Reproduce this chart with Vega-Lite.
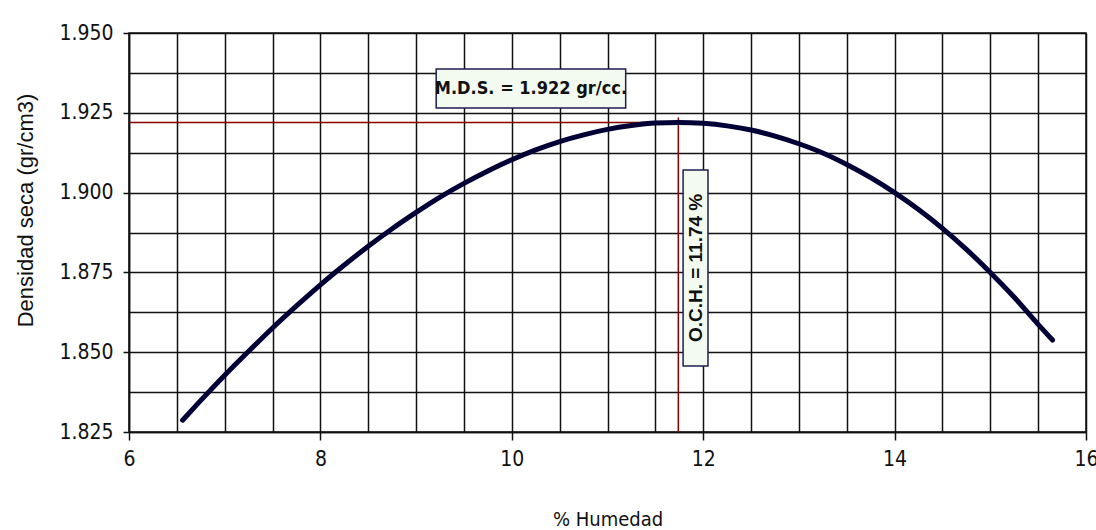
{
  "$schema": "https://vega.github.io/schema/vega-lite/v6.json",
  "width": 957,
  "height": 399,
  "autosize": {"type": "none"},
  "padding": {"left": 129, "top": 33, "right": 10, "bottom": 98},
  "background": "white",
  "config": {
    "view": {"stroke": "#111", "strokeWidth": 1.5},
    "font": "Liberation Sans"
  },
  "datasets": {
    "curve": [
      {"x": 6.56, "y": 1.8287},
      {"x": 6.75, "y": 1.8349},
      {"x": 7.0, "y": 1.8428},
      {"x": 7.25, "y": 1.8503},
      {"x": 7.5, "y": 1.8576},
      {"x": 7.75, "y": 1.8645},
      {"x": 8.0, "y": 1.8711},
      {"x": 8.25, "y": 1.8773},
      {"x": 8.5, "y": 1.8832},
      {"x": 8.75, "y": 1.8887},
      {"x": 9.0, "y": 1.8938},
      {"x": 9.25, "y": 1.8986},
      {"x": 9.5, "y": 1.9029},
      {"x": 9.75, "y": 1.9068},
      {"x": 10.0, "y": 1.9103},
      {"x": 10.25, "y": 1.9134},
      {"x": 10.5, "y": 1.916},
      {"x": 10.75, "y": 1.9181},
      {"x": 11.0, "y": 1.9198},
      {"x": 11.25, "y": 1.921},
      {"x": 11.5, "y": 1.9218},
      {"x": 11.74, "y": 1.922},
      {"x": 12.0, "y": 1.9217},
      {"x": 12.25, "y": 1.9209},
      {"x": 12.5, "y": 1.9196},
      {"x": 12.75, "y": 1.9177},
      {"x": 13.0, "y": 1.9153},
      {"x": 13.25, "y": 1.9124},
      {"x": 13.5, "y": 1.9088},
      {"x": 13.75, "y": 1.9047},
      {"x": 14.0, "y": 1.9},
      {"x": 14.25, "y": 1.8947},
      {"x": 14.5, "y": 1.8888},
      {"x": 14.75, "y": 1.8822},
      {"x": 15.0, "y": 1.875},
      {"x": 15.25, "y": 1.8672},
      {"x": 15.5, "y": 1.8587},
      {"x": 15.65, "y": 1.8538}
    ],
    "ref": [
      {"x": 6, "x2": 11.74, "y": 1.922, "y2": 1.922},
      {"x": 11.74, "x2": 11.74, "y": 1.9235, "y2": 1.825}
    ],
    "boxes": [
      {"x": 9.21, "x2": 11.19, "y": 1.9265, "y2": 1.9387},
      {"x": 11.79, "x2": 12.05, "y": 1.8457, "y2": 1.9071}
    ],
    "mds": [{"x": 10.2, "y": 1.9326, "label": "M.D.S. = 1.922 gr/cc."}],
    "och": [{"x": 11.92, "y": 1.8764, "label": "O.C.H. = 11.74 %"}]
  },
  "encoding": {
    "x": {
      "field": "x",
      "type": "quantitative",
      "scale": {"domain": [6, 16], "nice": false, "zero": false},
      "axis": {
        "values": [6, 6.5, 7, 7.5, 8, 8.5, 9, 9.5, 10, 10.5, 11, 11.5, 12, 12.5, 13, 13.5, 14, 14.5, 15, 15.5, 16],
        "grid": true,
        "gridColor": "#111",
        "gridWidth": 1.5,
        "gridOpacity": 1,
        "domainColor": "#111",
        "domainWidth": 1.5,
        "tickColor": "#111",
        "tickWidth": 1.5,
        "tickSize": 8,
        "tickOpacity": {"condition": {"test": "datum.value % 2 === 0", "value": 1}, "value": 0},
        "labelExpr": "datum.value % 2 === 0 ? format(datum.value, 'd') : ''",
        "labelFont": "DejaVu Sans Condensed, Liberation Sans",
        "labelFontSize": 21,
        "labelColor": "#111",
        "labelPadding": 8,
        "labelFlush": false,
        "labelOverlap": false,
        "labelBound": false,
        "title": "% Humedad",
        "titleFont": "DejaVu Sans Condensed, Liberation Sans",
        "titleFontSize": 20,
        "titleFontWeight": "normal",
        "titleColor": "#111",
        "titleBaseline": "alphabetic",
        "titleY": 93
      }
    },
    "y": {
      "field": "y",
      "type": "quantitative",
      "scale": {"domain": [1.825, 1.95], "nice": false, "zero": false},
      "axis": {
        "values": [1.825, 1.8375, 1.85, 1.8625, 1.875, 1.8875, 1.9, 1.9125, 1.925, 1.9375, 1.95],
        "grid": true,
        "gridColor": "#111",
        "gridWidth": 1.5,
        "gridOpacity": 1,
        "domainColor": "#111",
        "domainWidth": 1.5,
        "tickColor": "#111",
        "tickWidth": 1.5,
        "tickSize": 6,
        "tickOpacity": {"condition": {"test": "abs(datum.value * 40 - round(datum.value * 40)) < 0.01", "value": 1}, "value": 0},
        "labelExpr": "abs(datum.value * 40 - round(datum.value * 40)) < 0.01 ? format(datum.value, '.3f') : ''",
        "labelFont": "DejaVu Sans Condensed, Liberation Sans",
        "labelFontSize": 21,
        "labelColor": "#111",
        "labelPadding": 10,
        "labelFlush": false,
        "labelOverlap": false,
        "labelBound": false,
        "title": "Densidad seca (gr/cm3)",
        "titleFont": "Liberation Sans",
        "titleFontSize": 22,
        "titleFontWeight": "normal",
        "titleColor": "#111",
        "titleAngle": 270,
        "titleBaseline": "alphabetic",
        "titleAlign": "center",
        "titleX": -97,
        "titleY": 177
      }
    }
  },
  "layer": [
    {
      "data": {"name": "ref"},
      "mark": {"type": "rule", "color": "#8b0000", "strokeWidth": 1.5},
      "encoding": {"x2": {"field": "x2"}, "y2": {"field": "y2"}}
    },
    {
      "data": {"name": "curve"},
      "mark": {"type": "line", "color": "#000036", "strokeWidth": 5, "interpolate": "monotone", "strokeCap": "round"},
      "encoding": {}
    },
    {
      "data": {"name": "boxes"},
      "mark": {"type": "rect", "fill": "#f3fbf0", "stroke": "#1e1e50", "strokeWidth": 1.5},
      "encoding": {"x2": {"field": "x2"}, "y2": {"field": "y2"}}
    },
    {
      "data": {"name": "mds"},
      "mark": {"type": "text", "font": "DejaVu Sans Condensed, Liberation Sans", "fontWeight": "bold", "fontSize": 18, "color": "#111", "align": "center", "baseline": "middle"},
      "encoding": {"text": {"field": "label"}}
    },
    {
      "data": {"name": "och"},
      "mark": {"type": "text", "font": "Liberation Sans", "fontWeight": "bold", "fontSize": 19, "color": "#111", "align": "center", "baseline": "middle", "angle": 270},
      "encoding": {"text": {"field": "label"}}
    }
  ]
}
